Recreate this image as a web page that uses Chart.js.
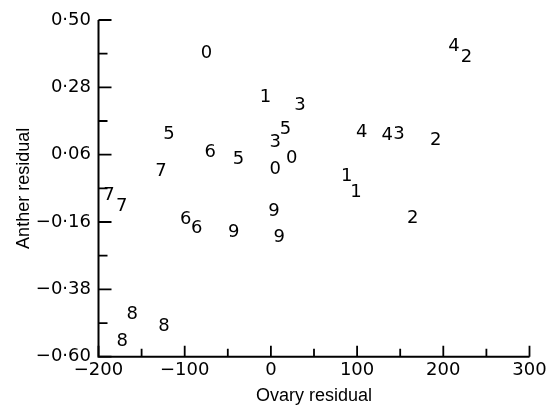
<!DOCTYPE html>
<html>
<head>
<meta charset="utf-8">
<script src="https://cdn.jsdelivr.net/npm/chart.js@4/dist/chart.umd.min.js"></script>
<style>
  html, body { margin: 0; padding: 0; background: #fff; }
  #wrap { width: 558px; height: 410px; }
</style>
</head>
<body>
<div id="wrap"><canvas id="chart"></canvas></div>
<script>
// residuals, one entry per plotted digit
const ovary = [-74.7, 212.4, 226.9, -6.3, 33.8, -118.2, 16.9, 5.1, -70.4, -37.6, 24.1, 5.1, -127.5,
  105.3, 135.0, 148.6, 191.2, 87.9, 98.7, 164.5, -187.8, -173.1, -98.8, -86.1, -43.2, 3.6, 9.7,
  -160.8, -124.0, -172.4];
const anther = [0.391, 0.413, 0.378, 0.246, 0.221, 0.128, 0.143, 0.101, 0.067, 0.046, 0.048, 0.013, 0.006,
  0.132, 0.124, 0.126, 0.106, -0.010, -0.064, -0.147, -0.072, -0.108, -0.151, -0.179, -0.195, -0.126, -0.210,
  -0.461, -0.502, -0.551];
const group = ['0', '4', '2', '1', '3', '5', '5', '3', '6', '5', '0', '0', '7',
  '4', '4', '3', '2', '1', '1', '2', '7', '7', '6', '6', '9', '9', '9',
  '8', '8', '8'];

const xMajor = [-200, -100, 0, 100, 200, 300];
const xMinor = [-150, -50, 50, 150, 250];
const yMajor = [-0.60, -0.38, -0.16, 0.06, 0.28, 0.50];
const yMinor = [-0.49, -0.27, -0.05, 0.17, 0.39];

const fmtY = v => v.toFixed(2).replace('.', '\u00b7').replace('-', '\u2212');
const fmtX = v => String(v).replace('-', '\u2212');

// digits instead of point markers
const digitLabels = {
  id: 'digitLabels',
  afterDatasetsDraw(chart) {
    const ctx = chart.ctx;
    const meta = chart.getDatasetMeta(0);
    ctx.save();
    ctx.fillStyle = '#000';
    ctx.font = '18px "DejaVu Sans"';
    ctx.textAlign = 'center';
    ctx.textBaseline = 'middle';
    meta.data.forEach((pt, i) => {
      ctx.fillText(group[i], pt.x, pt.y);
    });
    ctx.restore();
  }
};

// axis lines with inward ticks
const axesFrame = {
  id: 'axesFrame',
  afterDraw(chart) {
    const ctx = chart.ctx;
    const xs = chart.scales.x, ys = chart.scales.y;
    const x0 = xs.getPixelForValue(-200), x1 = xs.getPixelForValue(300);
    const y0 = ys.getPixelForValue(-0.60), y1 = ys.getPixelForValue(0.50);
    ctx.save();
    ctx.strokeStyle = '#000';
    ctx.lineWidth = 2;
    ctx.beginPath();
    ctx.moveTo(x0, y1);
    ctx.lineTo(x0, y0);
    ctx.lineTo(x1, y0);
    ctx.stroke();
    ctx.lineWidth = 1.8;
    ctx.beginPath();
    xMajor.forEach(v => { const p = xs.getPixelForValue(v); ctx.moveTo(p, y0); ctx.lineTo(p, y0 - 11); });
    xMinor.forEach(v => { const p = xs.getPixelForValue(v); ctx.moveTo(p, y0); ctx.lineTo(p, y0 - 8); });
    yMajor.forEach(v => { const p = ys.getPixelForValue(v); ctx.moveTo(x0, p); ctx.lineTo(x0 + 13, p); });
    yMinor.forEach(v => { const p = ys.getPixelForValue(v); ctx.moveTo(x0, p); ctx.lineTo(x0 + 9, p); });
    ctx.stroke();
    ctx.restore();
  }
};

new Chart(document.getElementById('chart'), {
  type: 'scatter',
  data: {
    datasets: [{
      label: 'residuals',
      data: ovary.map((x, i) => ({ x: x, y: anther[i] })),
      pointRadius: 0,
      pointHoverRadius: 0,
      showLine: false
    }]
  },
  options: {
    responsive: true,
    maintainAspectRatio: false,
    animation: false,
    events: [],
    layout: { padding: { top: 20, right: 28.5, bottom: 0, left: 0 } },
    plugins: {
      legend: { display: false },
      tooltip: { enabled: false }
    },
    scales: {
      x: {
        type: 'linear',
        min: -200,
        max: 300,
        afterBuildTicks: s => { s.ticks = xMajor.map(v => ({ value: v })); },
        afterFit: s => { s.height = 53.3; },
        grid: { display: false, drawTicks: false },
        border: { display: false },
        ticks: {
          padding: 3,
          color: '#000',
          font: { family: 'DejaVu Sans', size: 18 },
          maxRotation: 0,
          callback: v => fmtX(v)
        },
        title: {
          display: true,
          text: 'Ovary residual',
          color: '#000',
          font: { family: 'Liberation Sans', size: 18 },
          padding: { top: 0, bottom: 3.5 }
        }
      },
      y: {
        type: 'linear',
        min: -0.60,
        max: 0.50,
        afterBuildTicks: s => { s.ticks = yMajor.map(v => ({ value: v })); },
        afterFit: s => { s.width = 98.5; },
        grid: { display: false, drawTicks: false },
        border: { display: false },
        ticks: {
          padding: 7.5,
          color: '#000',
          font: { family: 'DejaVu Sans', size: 18 },
          callback: v => fmtY(v)
        },
        title: {
          display: true,
          text: 'Anther residual',
          color: '#000',
          font: { family: 'Liberation Sans', size: 18 },
          padding: { top: 13.5, bottom: 0 }
        }
      }
    }
  },
  plugins: [digitLabels, axesFrame]
});
</script>
</body>
</html>
